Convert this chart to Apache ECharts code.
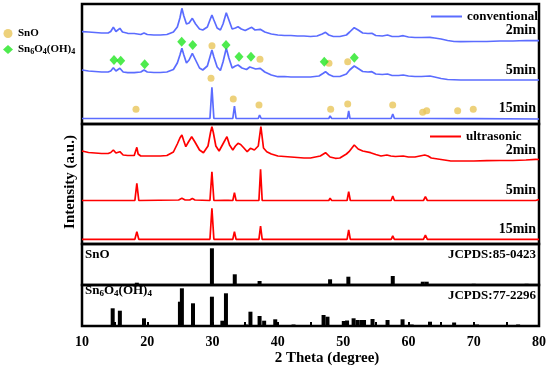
<!DOCTYPE html>
<html><head><meta charset="utf-8">
<script src="https://cdn.jsdelivr.net/npm/echarts@6/dist/echarts.min.js"></script>
<style>html,body{margin:0;padding:0;background:#fff}#c{width:550px;height:372px}</style>
</head><body><div id="c"></div>
<script>
// ---- Data (2 Theta in degrees, intensity in a.u. incl. stacking offset) ----
const conv2min = [[10,92.3],[11,92],[12,91.5],[13,91],[14,91],[14.4,92.5],[14.8,96.7],[15.2,92.5],[15.5,93.5],[15.8,95.7],[16.2,92],[17,90.7],[18,90.5],[19,89.5],[19.5,91],[20,89.5],[21,89],[22,89],[23,89.5],[24,92],[24.6,97],[25,106],[25.3,115.7],[25.6,108],[26,100],[26.4,101],[26.9,105.7],[27.4,100],[28,95],[28.5,94],[29.2,97],[29.6,104],[29.9,109],[30.2,104],[30.7,96],[31.2,94],[31.6,100],[32.1,111.3],[32.5,104],[33,95],[33.5,96],[33.9,97.3],[34.4,95],[35,93.5],[35.6,95.5],[36,96.7],[36.5,94],[37.3,94.7],[38,92],[39,90],[40,89],[41,88.5],[42,88.5],[43,88],[44,88],[45,87.5],[46,88],[46.8,90],[47.3,91.7],[47.8,89],[48.5,87.5],[49.5,87.5],[50.5,89],[51,92],[51.7,96.3],[52.3,94],[53,91],[53.8,90.5],[54.4,90.7],[55,88.5],[56,88],[56.8,89],[57.5,87.5],[58.5,87.5],[59.2,88.3],[60,87],[61,86.5],[62,86.5],[63.3,86.7],[64,86],[65,85],[66,83.5],[67,82.5],[68,82.3],[70,82.5],[72,82.5],[74,83],[76,83],[78,83.5],[80,83.3]];
const conv5min = [[10,54],[11,53],[12,52.5],[13,52],[14,52],[14.4,53],[14.8,56.3],[15.2,53],[15.5,53.5],[15.8,55.7],[16.3,52],[17,51.3],[18,51.3],[19,52],[19.5,54],[20,52],[21,51.5],[22,51.5],[23,52],[24,54.5],[24.6,61],[25,69],[25.3,75.7],[25.6,69],[26,61],[26.4,64],[26.9,70.7],[27.4,64],[28,56],[28.5,54],[29.2,58],[29.6,67],[29.9,74],[30.2,67],[30.7,57],[31.2,53.5],[31.6,62],[32.1,75.7],[32.5,66],[33,56],[33.5,58],[33.9,59],[34.5,56],[35.2,54.5],[35.7,57],[36,57.3],[36.6,55],[37.3,55.7],[38,52],[39,49],[40,47.3],[41,47.5],[42,47],[43,47],[44,47],[45,47],[46.3,48],[46.9,50.5],[47.3,52.3],[47.8,49.5],[48.5,47.5],[49.5,47.5],[50.5,50],[51,54],[51.7,58],[52.3,55.5],[53,52.5],[53.8,52],[54.4,52.3],[55,50],[56,49.5],[56.8,50],[57.5,48.5],[58.5,48.5],[59.2,49],[60,48],[61,47.5],[62,47.5],[63.3,48],[64,47],[65,45.5],[66,44.5],[68,44],[70,44],[72,44],[74,44],[76,44],[78,44],[80,44]];
const conv15min = [[10,5.5],[18.1,5.5],[18.4,7.3],[18.7,5.5],[29.6,5.5],[29.9,36.7],[30.2,5.5],[33.1,5.5],[33.35,18],[33.6,5.5],[37,5.5],[37.2,9],[37.45,5.5],[47.8,5.5],[48,8],[48.25,5.5],[50.65,5.5],[50.85,13],[51.05,5.5],[57.35,5.5],[57.6,10],[57.85,5.5],[62.2,5.5],[62.5,6.7],[62.8,5.5],[69.9,5.3],[70.1,6],[70.3,5.3],[80,5]];
const sonoMarks = [[29.91,78.3],[37.26,64.7],[47.83,60.7],[50.7,62.3],[29.76,45.7],[33.17,25],[37.11,19],[18.27,14.7],[48.09,14.7],[50.7,20],[57.59,19],[62.18,11.7],[62.8,13.3],[67.54,13.3],[69.93,14.7]];
const sn6Marks = [[25.27,82.3],[26.96,79],[32.06,79],[34.05,67.3],[35.88,67.3],[14.9,64],[15.93,63.3],[19.6,59.7],[47.11,62.3],[51.71,66.3]];
const us2min = [[10,93],[11,91.5],[12,91],[13,90.5],[14,90.5],[14.4,91.5],[14.8,94],[15.2,91],[15.5,91],[15.8,92.3],[16.3,89],[17,88.5],[18,88.5],[18.2,90],[18.4,96.7],[18.6,90],[19,88],[20,88],[21,88],[22,88],[23,88.5],[24,92],[24.6,100],[25,106],[25.3,109],[25.6,103],[25.9,97.3],[26.3,102],[26.8,107.3],[27.3,102],[28,94],[28.6,91.3],[29.3,98],[29.7,112],[29.9,117.3],[30.1,112],[30.5,98],[31,93],[31.5,99],[32.2,107.3],[32.6,99],[33.1,94],[33.5,98],[33.9,100.7],[34.3,99.5],[34.8,96],[35.3,92.3],[35.8,95.7],[36.4,94],[37,98],[37.4,117.3],[37.8,96],[38.3,92.3],[39,90],[40,88],[41,87.5],[42,87],[43,86.5],[44,86],[45,86],[46.5,88],[47.3,91.3],[48,87],[48.8,85.7],[49.5,86],[50.5,90],[50.9,92.3],[51.2,94],[51.7,99],[52.3,95],[53,93],[54.2,91.3],[55,89.5],[55.8,88],[56.7,89],[57.3,88],[58,87.5],[59.2,88],[60,87],[61,87],[62.5,89],[63,88],[63.5,86],[65,84.5],[66.5,83],[68,83],[70,83],[72,83.3],[74,83.5],[76,83.5],[78,84],[79.5,84.7],[80,84.5]];
const us5min = [[10,43.5],[18.1,43.5],[18.4,60.7],[18.7,43.5],[24.8,44],[25.3,45.7],[25.8,44],[26.5,44],[26.9,45.5],[27.3,44],[29.6,43.5],[29.9,72.3],[30.2,43.5],[31.8,43.7],[32.1,45.3],[32.4,43.7],[33.1,43.5],[33.35,51.3],[33.6,43.5],[37.1,43.5],[37.35,74.7],[37.6,43.5],[47.8,43.5],[48,45.7],[48.25,43.5],[50.6,43.5],[50.85,52.3],[51.1,43.5],[57.35,43.5],[57.6,48],[57.85,43.5],[62.3,43.5],[62.6,47.3],[62.9,43.5],[69.9,43.5],[70.1,44.5],[70.3,43.5],[79.5,43.5],[79.7,45],[80,44.5]];
const us15min = [[10,4.7],[18.1,4.7],[18.4,12.3],[18.7,4.7],[29.6,4.7],[29.9,35.7],[30.2,4.7],[33.1,4.7],[33.35,12.3],[33.6,4.7],[37.1,4.7],[37.35,18],[37.6,4.7],[47.8,4.7],[48,6.7],[48.25,4.7],[50.6,4.7],[50.85,14],[51.1,4.7],[57.35,4.7],[57.6,8],[57.85,4.7],[62.3,4.7],[62.6,9],[62.9,4.7],[69.9,4.7],[70.1,5.5],[70.3,4.7],[80,4.7]];
const snoRef = [[18.4,2.3],[29.9,36.7],[33.4,10.7],[37.2,4],[48.0,5.7],[50.8,8.3],[57.6,9],[62.2,3.3],[62.8,3.3],[70.0,1.2],[78.1,1.2]];
const sn6Ref = [[14.7,17.7],[15.8,15.3],[19.5,7.7],[25.0,24.3],[25.3,37.7],[27.0,22.7],[29.9,29.3],[31.5,5.3],[32.05,32.7],[35.1,1.5],[35.8,14.3],[37.2,10],[37.9,5.3],[39.6,6.7],[42.4,1.5],[47.0,11],[47.6,9.3],[50.1,5],[50.6,5.5],[51.6,7.7],[52.2,6],[52.8,6],[53.2,6],[54.5,7],[56.8,6],[59.1,6.7],[60.5,1.5],[63.3,4.3],[67.0,3.5],[70.5,1.5],[76.8,1.5]];
const timeLabels = ['2min','5min','15min'];
const xTicks = [10,20,30,40,50,60,70,80];

// ---- Chart ----
const FONT = '"Liberation Serif","Times New Roman",serif';
const BLUE = '#5b6cff', RED = '#ff0000', GOLD = '#e8c55a', GREEN = '#22e622';
const chart = echarts.init(document.getElementById('c'), null, {renderer:'canvas'});
const grids = [[4,120],[124,120],[244,41],[285,41]].map(([t,h]) => ({left:82, right:11, top:t, height:h, show:true, borderColor:'#000', borderWidth:2.5, backgroundColor:'transparent'}));
const xAxes = grids.map((g,i) => ({
  type:'value', gridIndex:i, min:10, max:80, interval:5,
  axisLine:{show:false}, splitLine:{show:false},
  axisTick:{show:i===3, inside:true, length:4, lineStyle:{color:'#000', width:2}},
  axisLabel:{show:i===3, margin:9, color:'#000', fontFamily:FONT, fontWeight:'bold', fontSize:14,
    formatter: v => xTicks.includes(v) ? String(v) : ''}
}));
const yAxes = [[0,120],[0,120],[0,41],[0,41]].map(([mn,mx],i) => ({type:'value', gridIndex:i, min:mn, max:mx, show:false}));
const lineS = (name, data, gi, color) => ({type:'line', name, data, xAxisIndex:gi, yAxisIndex:gi, showSymbol:false, symbol:'none', lineStyle:{color, width:1.7}, itemStyle:{color}, z:2});
const series = [
  lineS('conventional', conv2min, 0, BLUE), lineS('conventional', conv5min, 0, BLUE), lineS('conventional', conv15min, 0, BLUE),
  {type:'scatter', name:'SnO', data:sonoMarks, xAxisIndex:0, yAxisIndex:0, symbol:'circle', symbolSize:7, itemStyle:{color:GOLD}, z:5},
  {type:'scatter', name:'Sn6O4(OH)4', data:sn6Marks, xAxisIndex:0, yAxisIndex:0, symbol:'diamond', symbolSize:[9,10], itemStyle:{color:GREEN}, z:6},
  lineS('ultrasonic', us2min, 1, RED), lineS('ultrasonic', us5min, 1, RED), lineS('ultrasonic', us15min, 1, RED),
  {type:'bar', name:'SnO ref', data:snoRef, xAxisIndex:2, yAxisIndex:2, barWidth:4, itemStyle:{color:'#000'}},
  {type:'bar', name:'Sn6 ref', data:sn6Ref, xAxisIndex:3, yAxisIndex:3, barWidth:4, itemStyle:{color:'#000'}}
];
const txt = (x,y,text,align,size,extra) => Object.assign({type:'text', x, y, style:{text, align, verticalAlign:'middle', font:`bold ${size}px ${FONT}`, fill:'#000'}, z:100}, extra||{});
const timeY = [[30.7,70,108],[150,190.7,229.3]];
const graphic = [];
timeY.forEach(ys => ys.forEach((y,i) => graphic.push(txt(536, y, timeLabels[i], 'right', 14))));
graphic.push(txt(85, 255, 'SnO', 'left', 13));
graphic.push(txt(536, 255, 'JCPDS:85-0423', 'right', 13));
graphic.push(txt(536, 296, 'JCPDS:77-2296', 'right', 13));
graphic.push({type:'text', x:85, y:291, z:100, style:{text:'{b|Sn}{s|6}{b|O}{s|4}{b|(OH)}{s|4}', verticalAlign:'middle', rich:{b:{font:`bold 13px ${FONT}`, fill:'#000'}, s:{font:`bold 9px ${FONT}`, fill:'#000', verticalAlign:'bottom', padding:[6,0,0,0]}}}});
graphic.push(txt(327, 358, '2 Theta (degree)', 'center', 15));
graphic.push(txt(70, 182, 'Intensity (a.u.)', 'center', 15, {rotation:Math.PI/2}));
const legTxt = {fontFamily:FONT, fontWeight:'bold', fontSize:13, color:'#000'};
const option = {
  animation:false, backgroundColor:'#fff',
  grid:grids, xAxis:xAxes, yAxis:yAxes, series, graphic,
  legend:[
    {data:['conventional'], left:431, top:10, padding:0, itemWidth:31, itemHeight:2, icon:'rect', itemGap:0, textStyle:legTxt, selectedMode:false},
    {data:['ultrasonic'], left:430, top:130, padding:0, itemWidth:31, itemHeight:2, icon:'rect', itemGap:0, textStyle:legTxt, selectedMode:false},
    {data:['SnO','Sn6O4(OH)4'], orient:'vertical', left:3, top:28, padding:0, itemWidth:10, itemHeight:9, itemGap:5, selectedMode:false,
      textStyle:{fontFamily:FONT, fontWeight:'bold', fontSize:11, color:'#000', rich:{b:{fontFamily:FONT, fontWeight:'bold', fontSize:11}, s:{fontFamily:FONT, fontWeight:'bold', fontSize:8, verticalAlign:'bottom', padding:[5,0,0,0]}}},
      formatter: n => n === 'SnO' ? '{b|SnO}' : '{b|Sn}{s|6}{b|O}{s|4}{b|(OH)}{s|4}'}
  ]
};
chart.setOption(option);
</script>
</body></html>
